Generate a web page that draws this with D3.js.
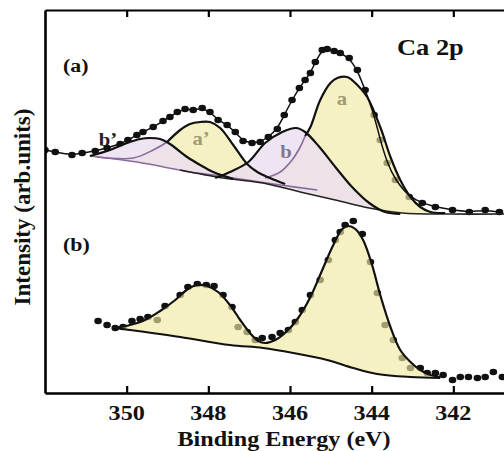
<!DOCTYPE html>
<html><head><meta charset="utf-8">
<script src="https://cdn.jsdelivr.net/npm/d3@7"></script>
<style>
body{margin:0;background:#fff}
svg{display:block}
text{font-family:"Liberation Serif","Times New Roman",serif;font-weight:bold}
</style>
</head><body>
<svg id="chart" width="504" height="451"></svg>
<script>
// ---- data (binding energy eV, intensity arb. units) ----
const xTicks = [350, 348, 346, 344, 342];
const tickLabels = ["350", "348", "346", "344", "342"];

// spectrum (a): measured points
const dataA = [[352.00,243],[351.75,241],[351.34,238],[351.09,240],[350.77,242],[350.48,245],[350.16,249],
 [349.97,253],[349.75,258],[349.60,261],[349.35,266],[349.11,272],[348.94,276],[348.76,281],[348.57,284],
 [348.37,283],[348.15,285],[347.96,281],[347.76,273],[347.54,268],[347.34,261],[347.15,252],[346.93,250],
 [346.73,251],[346.53,256],[346.31,264],[346.14,278],[345.95,293],[345.77,305],[345.63,313],[345.50,320],
 [345.38,331],[345.21,343],[345.09,344],[344.92,342],[344.77,340],[344.55,335],[344.35,323],[344.16,303],
 [343.94,278],[343.79,253],[343.62,230],[343.42,213],[343.08,196],[342.76,190],[342.44,186],[342.02,183],
 [341.61,181],[341.22,183],[340.87,181]];
// spectrum (a): background lines
const bgA = [[352.00,241],[350.90,237],[349.67,231],[348.69,223],[347.64,215],[346.66,210],[345.75,201],
 [344.89,193],[344.06,185],[343.25,180],[342.07,179],[340.75,179]];
const bgA2 = [[350.90,237],[349.75,231],[348.45,221],[347.88,218],[347.05,213],[346.24,208],[345.33,203]];
// spectrum (a): fitted components
const peakA = [[346.61,215],[346.24,221],[345.95,233],[345.75,246],[345.63,257],[345.50,266],[345.26,293],
 [345.01,310],[344.84,315],[344.60,316],[344.35,308],[344.11,296],[343.79,266],[343.54,236],[343.30,213],
 [343.05,196],[342.81,186],[342.56,181],[342.20,180]];
const peakA1 = [[350.73,236],[349.84,235],[349.35,243],[349.01,251],[348.69,263],[348.45,269],[348.20,271],
 [347.96,271],[347.71,265],[347.39,248],[347.05,229],[346.80,221],[346.49,215],[346.12,209]];
const peakB = [[347.83,215],[347.47,221],[347.02,231],[346.61,250],[346.19,261],[345.85,265],[345.63,261],
 [345.28,246],[344.89,226],[344.48,206],[344.06,190],[343.67,181],[343.30,179]];
const peakB1 = [[350.90,237],[350.41,243],[349.99,250],[349.67,254],[349.43,255],[349.18,254],[348.94,249],
 [348.52,236],[348.20,228],[347.88,221],[347.39,214]];

// spectrum (b): measured points
const dataB = [[350.70,72],[350.48,68],[350.28,65],[350.09,66],[349.87,72],[349.67,74],[349.48,76],[349.25,73],
 [349.06,87],[348.69,98],[348.50,106],[348.27,109],[348.05,108],[347.86,107],[347.64,98],[347.42,86],
 [347.27,66],[347.05,61],[346.85,53],[346.68,55],[346.44,56],[346.24,60],[346.04,63],[345.87,71],[345.70,83],
 [345.50,98],[345.26,113],[345.06,133],[344.89,153],[344.77,161],[344.65,168],[344.45,172],[344.23,159],
 [344.03,131],[343.86,100],[343.67,68],[343.47,53],[343.25,35],[343.05,25],[342.81,25],[342.64,20],
 [342.44,20],[342.25,18],[342.02,13],[341.83,16],[341.63,16],[341.41,15],[341.22,16],[341.02,21],[340.80,16]];
// spectrum (b): fit envelope and background
const fitB = [[350.28,65],[349.92,68],[349.55,73],[349.18,82],[348.81,93],[348.50,104],[348.27,108],[348.03,107],
 [347.76,101],[347.47,88],[347.22,73],[346.98,60],[346.78,52],[346.61,50],[346.36,53],[346.07,62],[345.80,75],
 [345.50,96],[345.21,123],[344.94,148],[344.72,164],[344.57,167],[344.40,164],[344.21,153],[343.99,128],
 [343.79,98],[343.54,66],[343.30,43],[343.05,31],[342.81,23],[342.56,18],[342.32,16]];
const bgB = [[350.28,65],[348.69,56],[347.47,48],[346.66,45],[345.92,40],[345.09,33],[344.45,25],[343.86,19],
 [343.05,16],[342.32,15]];

// ---- drawing ----
const svg = d3.select("#chart");
const mLeft = 45, mTop = 10, mBottom = 393;
const x = d3.scaleLinear().domain([352, 340]).range([mLeft, 535]);
const y = d3.scaleLinear().domain([0, 383]).range([mBottom, mTop]);

const YEL = "#f0e9a2", LAV = "#ecdff0", PUR = "#8a6a9e";

svg.append("defs").append("clipPath").attr("id","clip")
  .append("rect").attr("x",mLeft).attr("y",mTop).attr("width",504-mLeft).attr("height",mBottom-mTop);
const g = svg.append("g").attr("clip-path","url(#clip)");

const pieceBg = arr => d3.scaleLinear().domain(arr.map(d=>d[0])).range(arr.map(d=>d[1])).clamp(true);
const fbgA = pieceBg(bgA), fbgB = pieceBg(bgB);

const line = c => d3.line().x(d=>x(d[0])).y(d=>y(d[1])).curve(c);
const areaOn = f => d3.area().x(d=>x(d[0])).y1(d=>y(d[1])).y0(d=>y(f(d[0]))).curve(d3.curveCatmullRom);

function dots(arr){
  g.append("g").selectAll("ellipse").data(arr).join("ellipse")
    .attr("cx",d=>x(d[0])).attr("cy",d=>y(d[1])).attr("rx",3.8).attr("ry",3.3).attr("fill","#111");
}

// (a)
dots(dataA);
[peakA, peakA1].forEach(p => g.append("path").attr("d", areaOn(fbgA)(p)).attr("fill",YEL).attr("fill-opacity",0.65));
[peakB, peakB1].forEach(p => g.append("path").attr("d", areaOn(fbgA)(p)).attr("fill",LAV).attr("fill-opacity",0.85));
g.append("path").attr("d", line(d3.curveCatmullRom)(bgA2)).attr("fill","none").attr("stroke",PUR).attr("stroke-width",1.6);
g.append("path").attr("d", line(d3.curveCatmullRom)(bgA.filter(d=>d[0]<=348.7))).attr("fill","none").attr("stroke","#222").attr("stroke-width",1.6);
g.append("path").attr("d", line(d3.curveCatmullRom)(peakA.filter(d=>d[0]>=345.6))).attr("fill","none").attr("stroke",PUR).attr("stroke-width",1.6);
g.append("path").attr("d", line(d3.curveCatmullRom)(peakA.filter(d=>d[0]<=345.65))).attr("fill","none").attr("stroke","#111").attr("stroke-width",2.2);
g.append("path").attr("d", line(d3.curveCatmullRom)(peakA1.filter(d=>d[0]>=349.0))).attr("fill","none").attr("stroke",PUR).attr("stroke-width",1.6);
g.append("path").attr("d", line(d3.curveCatmullRom)(peakA1.filter(d=>d[0]<=349.01))).attr("fill","none").attr("stroke","#111").attr("stroke-width",2.2);
[peakB, peakB1].forEach(p => g.append("path").attr("d", line(d3.curveCatmullRom)(p)).attr("fill","none").attr("stroke","#111").attr("stroke-width",2.2));
g.append("path").attr("d", line(d3.curveBasis)(dataA)).attr("fill","none").attr("stroke","#111").attr("stroke-width",1.5);

// (b)
dots(dataB);
g.append("path").attr("d", areaOn(fbgB)(fitB)).attr("fill",YEL).attr("fill-opacity",0.65);
g.append("path").attr("d", line(d3.curveCatmullRom)(bgB)).attr("fill","none").attr("stroke","#111").attr("stroke-width",2);
g.append("path").attr("d", line(d3.curveCatmullRom)(fitB)).attr("fill","none").attr("stroke","#111").attr("stroke-width",2.2);

// frame and ticks (inward) via d3 axes
const ax = svg.append("g");
ax.append("g").attr("transform",`translate(0,${mBottom})`)
  .call(d3.axisBottom(x).tickValues(xTicks).tickSize(-7).tickFormat("").tickSizeOuter(0))
  .call(s=>s.select(".domain").attr("stroke-width",2.6))
  .call(s=>s.selectAll(".tick line").attr("stroke-width",2.2));
ax.append("g").attr("transform",`translate(0,${mTop})`)
  .call(d3.axisTop(x).tickValues(xTicks).tickSize(-7).tickFormat("").tickSizeOuter(0))
  .call(s=>s.select(".domain").attr("stroke-width",2.2))
  .call(s=>s.selectAll(".tick line").attr("stroke-width",2.2));
ax.append("g").attr("transform",`translate(${mLeft},0)`)
  .call(d3.axisLeft(y).tickValues([]).tickSizeOuter(0))
  .call(s=>s.select(".domain").attr("stroke-width",2.6));

function stext(txt, tx, ty, size, anchor, color){
  svg.append("g").attr("transform",`translate(${tx},${ty}) scale(1.15,1)`)
    .append("text").attr("text-anchor",anchor||"start").attr("font-size",size).attr("fill",color||"#111").text(txt);
}
xTicks.forEach((t,i)=>stext(tickLabels[i], x(t), 420, 21, "middle"));
stext("Binding Energy (eV)", 284, 446, 21, "middle");
svg.append("text").attr("transform","translate(30,207) rotate(-90)").attr("text-anchor","middle")
  .attr("font-size",23).attr("fill","#111").text("Intensity (arb.units)");

stext("(a)", 63, 72, 19);
stext("(b)", 63, 251, 19);
stext("Ca 2p", 397, 55, 23);
stext("a", 342, 105, 18, "middle", "#a39a72");
stext("a\u2019", 201, 145, 18, "middle", "#a39a72");
stext("b", 286, 158, 18, "middle", "#85768a");
stext("b\u2019", 108, 146, 18, "middle", "#222");
</script>
</body></html>
